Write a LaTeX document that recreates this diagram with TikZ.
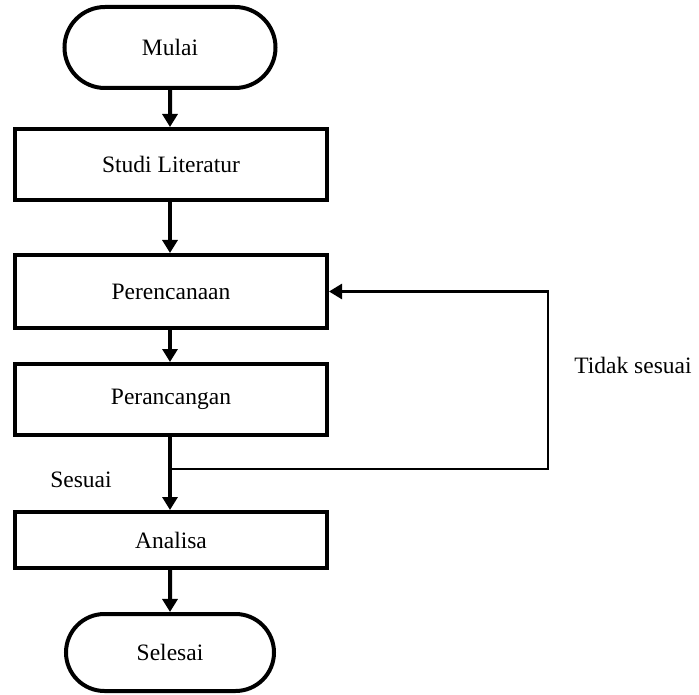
\documentclass[tikz,border=0pt]{standalone}
\usepackage{fontspec}
\setmainfont{Liberation Serif}
\usetikzlibrary{arrows.meta,shapes.misc}

\begin{document}
\begin{tikzpicture}[x=1pt,y=-1pt,
  every node/.style={font=\fontsize{23.5}{28}\selectfont, inner sep=0pt},
  terminal/.style={draw, line width=4pt, rounded rectangle, minimum width=211pt, minimum height=81pt},
  proses/.style={draw, line width=4pt, rectangle, minimum width=312pt},
  panah/.style={line width=4pt, -{Triangle[length=13pt,width=15pt]}},
  balik/.style={line width=2.6pt, -{Triangle[length=13pt,width=15pt]}}]
\useasboundingbox (0,0) rectangle (699,695);
\node [terminal] (mulai) at (170,47.5) {Mulai};
\node [proses, minimum height=71pt] (studi) at (171,164.5) {Studi Literatur};
\node [proses, minimum height=73pt] (perencanaan) at (171,291.5) {Perencanaan};
\node [proses, minimum height=71pt] (perancangan) at (171,399.5) {Perancangan};
\node [proses, minimum height=56pt] (analisa) at (171,540) {Analisa};
\node [terminal, minimum height=77pt, minimum width=208pt] (selesai) at (170,652.5) {Selesai};
\coordinate (cabang) at (170,469);
\coordinate (pojok) at (548,469);
\draw [panah] (mulai) -- (studi.north -| mulai);
\draw [panah] (studi.south -| mulai) -- (perencanaan.north -| mulai);
\draw [panah] (perencanaan.south -| mulai) -- (perancangan.north -| mulai);
\draw [panah] (perancangan.south -| mulai) -- (analisa.north -| mulai);
\draw [panah] (analisa.south -| mulai) -- (selesai);
\draw [balik] (cabang) -- (pojok) |- (perencanaan.east);
\node (sesuai) at (81,480) {Sesuai};
\node (tidak) at (633,365) {Tidak sesuai};
\end{tikzpicture}
\end{document}
